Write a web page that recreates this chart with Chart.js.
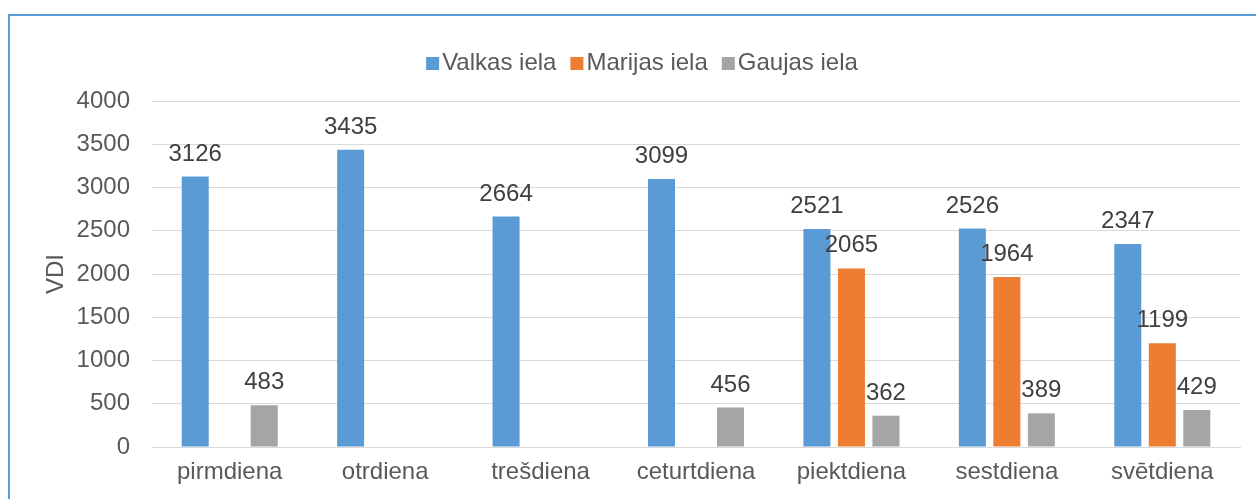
<!DOCTYPE html>
<html>
<head>
<meta charset="utf-8">
<script src="https://cdn.jsdelivr.net/npm/chart.js@4/dist/chart.umd.min.js"></script>
<style>
  html, body { margin: 0; padding: 0; background: #ffffff; }
  #wrap { position: relative; width: 1256px; height: 499px; }
  canvas { display: block; }
</style>
</head>
<body>
<div id="wrap"><canvas id="c" width="1256" height="499"></canvas></div>
<script>
const categories = ['pirmdiena', 'otrdiena', 'trešdiena', 'ceturtdiena', 'piektdiena', 'sestdiena', 'svētdiena'];
const valkasIela = [3126, 3435, 2664, 3099, 2521, 2526, 2347];
const marijasIela = [null, null, null, null, 2065, 1964, 1199];
const gaujasIela = [483, null, null, 456, 362, 389, 429];
const seriesNames = ['Valkas iela', 'Marijas iela', 'Gaujas iela'];
const yTicks = [0, 500, 1000, 1500, 2000, 2500, 3000, 3500, 4000];

const FONT = '"Liberation Sans", Arial, sans-serif';
const FS = 24;

const frame = {
  id: 'frame',
  beforeDraw(chart) {
    const ctx = chart.ctx;
    ctx.save();
    ctx.fillStyle = '#ffffff';
    ctx.fillRect(0, 0, chart.width, chart.height);
    ctx.fillStyle = '#5B9BD5';
    ctx.fillRect(8, 14, 2, chart.height - 14);
    ctx.fillRect(8, 14, chart.width - 8, 2);
    ctx.restore();
  }
};

const customLegend = {
  id: 'customLegend',
  afterDraw(chart) {
    const ctx = chart.ctx;
    ctx.save();
    ctx.font = FS + 'px ' + FONT;
    const box = 13, gapText = 3, gapItem = 14;
    const items = chart.data.datasets.map(d => ({ label: d.label, color: d.backgroundColor, w: ctx.measureText(d.label).width }));
    let total = 0;
    items.forEach((it, i) => { total += box + gapText + it.w + (i < items.length - 1 ? gapItem : 0); });
    let x = 642 - total / 2;
    const baseline = 70;
    items.forEach(it => {
      ctx.fillStyle = it.color;
      ctx.fillRect(x, 57, box, box);
      x += box + gapText;
      ctx.fillStyle = '#595959';
      ctx.textAlign = 'left';
      ctx.textBaseline = 'alphabetic';
      ctx.fillText(it.label, x, baseline);
      x += it.w + gapItem;
    });
    ctx.restore();
  }
};

const valueLabels = {
  id: 'valueLabels',
  afterDatasetsDraw(chart) {
    const ctx = chart.ctx;
    ctx.save();
    ctx.font = FS + 'px ' + FONT;
    ctx.fillStyle = '#404040';
    ctx.textAlign = 'center';
    ctx.textBaseline = 'alphabetic';
    chart.data.datasets.forEach((ds, di) => {
      const meta = chart.getDatasetMeta(di);
      meta.data.forEach((el, i) => {
        const v = ds.data[i];
        if (v === null || v === undefined) return;
        ctx.fillText(String(v), el.x, el.y - 16);
      });
    });
    ctx.restore();
  }
};

new Chart(document.getElementById('c'), {
  type: 'bar',
  data: {
    labels: categories,
    datasets: [
      { label: seriesNames[0], data: valkasIela, backgroundColor: '#5B9BD5' },
      { label: seriesNames[1], data: marijasIela, backgroundColor: '#ED7D31' },
      { label: seriesNames[2], data: gaujasIela, backgroundColor: '#A5A5A5' }
    ]
  },
  options: {
    responsive: false,
    animation: false,
    devicePixelRatio: 1,
    layout: { padding: { left: 10, right: 16, top: 101, bottom: 0 } },
    datasets: { bar: { categoryPercentage: 0.666, barPercentage: 0.783, borderWidth: 0 } },
    plugins: {
      legend: { display: false },
      tooltip: { enabled: false },
      title: { display: false }
    },
    scales: {
      x: {
        grid: { display: false, drawTicks: false },
        border: { display: true, color: '#D9D9D9', width: 1 },
        ticks: { color: '#595959', font: { family: FONT, size: FS }, padding: 11, maxRotation: 0, autoSkip: false },
        afterFit(axis) { axis.height = 52; }
      },
      y: {
        min: 0,
        max: 4000,
        afterBuildTicks(axis) { axis.ticks = yTicks.map(v => ({ value: v })); },
        grid: { color: '#D9D9D9', lineWidth: 1, drawTicks: false },
        border: { display: false },
        ticks: { color: '#595959', font: { family: FONT, size: FS }, padding: 22, callback: (v) => String(v) },
        title: { display: true, text: 'VDI', color: '#595959', font: { family: FONT, size: FS }, padding: { top: 32, bottom: 0 } },
        afterFit(axis) { axis.width = 142; }
      }
    }
  },
  plugins: [frame, customLegend, valueLabels]
});
</script>
</body>
</html>
